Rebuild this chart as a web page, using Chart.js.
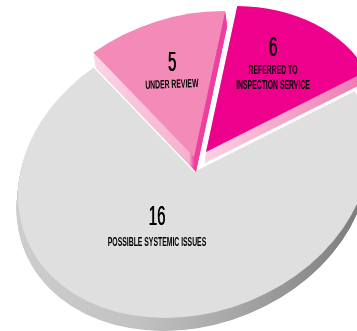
<!DOCTYPE html>
<html>
<head>
<meta charset="utf-8">
<style>
  html, body { margin: 0; padding: 0; background: #fff; }
  canvas { display: block; }
</style>
<script src="https://cdn.jsdelivr.net/npm/chart.js@4"></script>
</head>
<body>
<canvas id="pie" width="357" height="331"></canvas>
<script>
// Case counts per outcome
const categories = ['POSSIBLE SYSTEMIC ISSUES', 'UNDER REVIEW', 'REFERRED TO INSPECTION SERVICE'];
const caseCounts = [16, 5, 6];
const labelLines = [['POSSIBLE SYSTEMIC ISSUES'], ['UNDER REVIEW'], ['REFERRED TO', 'INSPECTION SERVICE']];

// Slice styling
const faceColors = ['#dfdfdf', '#f48ab8', '#ec008c'];
const sideStops = [
  [[0, '#cdcdcd'], [0.35, '#c2c2c2'], [0.65, '#a6a6a6'], [1, '#7d7d7d']],
  [[0, '#fbd3e4'], [0.72, '#f7b0ce'], [0.76, '#ee3f9f'], [1, '#ee3f9f']],
  [[0, '#fbd2e3'], [1, '#ee7db3']]
];
const sideSpan = [[16, 357], [97, 225], [205, 357]];
const sliceShift = [[0, 0], [0, -15], [12, -20]];
const extrusions = [[-1.5, 13], [2, 15], [-1, 11]];

// Tilted-disc view: pixel centre, ellipse matrix and far-side foreshortening
const discCentre = { x: 194, y: 172 };
const discMatrix = { a: 176, b: -24, c: 0, d: 144 };
const foreshorten = { strength: 0.42, axis: -78.6 * Math.PI / 180 };

// Text placement for each slice: value baseline, label baselines and tilt
const textLayout = [
  { x: 157, value: 225, lines: [246], tilt: 0 },
  { x: 172, value: 71, lines: [88], tilt: -2 },
  { x: 273, value: 56, lines: [74, 89], tilt: 0 }
];

const warpAngle = t => t - foreshorten.strength * Math.sin(t - foreshorten.axis);

function sectorPath(ctx, arc, index, dx, dy) {
  const R = arc.outerRadius;
  ctx.save();
  ctx.translate(discCentre.x + sliceShift[index][0] + dx, discCentre.y + sliceShift[index][1] + dy);
  ctx.transform(discMatrix.a / R, discMatrix.b / R, discMatrix.c / R, discMatrix.d / R, 0, 0);
  ctx.translate(-arc.x, -arc.y);
  ctx.beginPath();
  ctx.moveTo(arc.x, arc.y);
  ctx.arc(arc.x, arc.y, R, arc.startAngle, arc.endAngle);
  ctx.closePath();
  ctx.restore();
}

const tiltedDisc = {
  id: 'tiltedDisc',
  afterDatasetUpdate(chart, args) {
    chart.getDatasetMeta(args.index).data.forEach(arc => {
      arc.startAngle = warpAngle(arc.startAngle);
      arc.endAngle = warpAngle(arc.endAngle);
      arc.circumference = arc.endAngle - arc.startAngle;
    });
  },
  beforeDatasetDraw(chart, args) {
    const ctx = chart.ctx;
    chart.getDatasetMeta(args.index).data.forEach((arc, i) => {
      const grad = ctx.createLinearGradient(sideSpan[i][0], 0, sideSpan[i][1], 0);
      sideStops[i].forEach(s => grad.addColorStop(s[0], s[1]));
      ctx.fillStyle = grad;
      for (let step = 1; step >= 0.04; step -= 0.04) {
        sectorPath(ctx, arc, i, extrusions[i][0] * step, extrusions[i][1] * step);
        ctx.fill();
      }
      sectorPath(ctx, arc, i, 0, 0);
      ctx.fillStyle = faceColors[i];
      ctx.fill();
    });
    return false;
  },
  afterDraw(chart) {
    const ctx = chart.ctx;
    ctx.save();
    ctx.fillStyle = '#000';
    ctx.textAlign = 'center';
    textLayout.forEach((t, i) => {
      ctx.save();
      ctx.translate(t.x, t.value);
      ctx.scale(0.56, 1);
      ctx.font = '27px "Liberation Sans", sans-serif';
      ctx.fillText(String(caseCounts[i]), 0, 0);
      ctx.fillText(String(caseCounts[i]), 0.6, 0);
      ctx.restore();
      labelLines[i].forEach((line, j) => {
        ctx.save();
        ctx.translate(t.x, t.lines[j]);
        ctx.rotate(t.tilt * Math.PI / 180);
        ctx.scale(0.57, 1);
        ctx.font = 'bold 12px "Liberation Sans", sans-serif';
        ctx.fillText(line, 0, 0);
        ctx.restore();
      });
    });
    ctx.restore();
  }
};

new Chart(document.getElementById('pie'), {
  type: 'pie',
  data: {
    labels: categories,
    datasets: [{ data: caseCounts, backgroundColor: faceColors, borderWidth: 0 }]
  },
  options: {
    responsive: false,
    animation: false,
    rotation: 89.4,
    layout: { padding: 0 },
    plugins: { legend: { display: false }, tooltip: { enabled: false } }
  },
  plugins: [tiltedDisc]
});
</script>
</body>
</html>
